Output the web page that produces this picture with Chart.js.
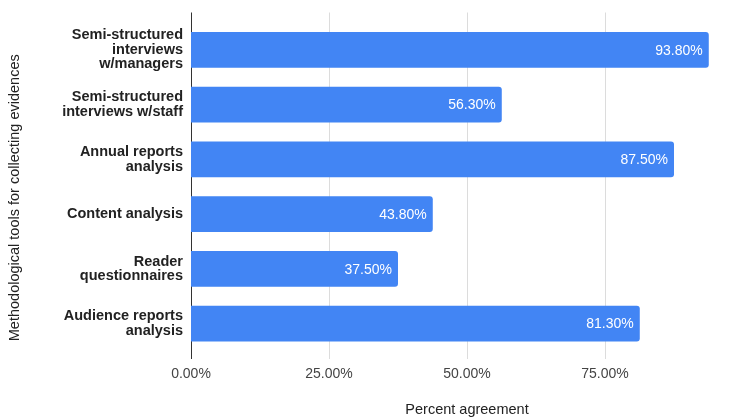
<!DOCTYPE html>
<html>
<head>
<meta charset="utf-8">
<script src="https://cdn.jsdelivr.net/npm/chart.js@4/dist/chart.umd.min.js"></script>
<style>
  html, body { margin: 0; padding: 0; background: #fff; overflow: hidden; }
  canvas { display: block; }
</style>
</head>
<body>
<canvas id="c" width="760" height="419"></canvas>
<script>
// Survey: share of respondents agreeing with each evidence-collection tool
const categories = [
  ["Semi-structured", "interviews", "w/managers"],
  ["Semi-structured", "interviews w/staff"],
  ["Annual reports", "analysis"],
  "Content analysis",
  ["Reader", "questionnaires"],
  ["Audience reports", "analysis"]
];
const agreement = [93.8, 56.3, 87.5, 43.8, 37.5, 81.3];
const tickValues = [0, 25, 50, 75];
const xTitle = 'Percent agreement';
const yTitle = 'Methodological tools for collecting evidences';

const FONT = "'Liberation Sans', Arial, sans-serif";
const pct = v => Number(v).toFixed(2) + '%';

// Vertical grid lines and the zero axis, running slightly past the plot area
const gridPlugin = {
  id: 'gridExt',
  beforeDatasetsDraw(chart) {
    const { ctx, chartArea, scales } = chart;
    const x = scales.x;
    ctx.save();
    x.ticks.forEach(t => {
      const px = Math.round(x.getPixelForValue(t.value)) + 0.5;
      ctx.beginPath();
      ctx.strokeStyle = t.value === 0 ? '#333333' : '#dcdcdc';
      ctx.lineWidth = 1;
      ctx.moveTo(px, chartArea.top - 10);
      ctx.lineTo(px, chartArea.bottom + 8);
      ctx.stroke();
    });
    ctx.restore();
  }
};

// Value labels inside the end of each bar
const valueLabels = {
  id: 'valueLabels',
  afterDatasetsDraw(chart) {
    const { ctx } = chart;
    const meta = chart.getDatasetMeta(0);
    const data = chart.data.datasets[0].data;
    ctx.save();
    ctx.font = '14px ' + FONT;
    ctx.fillStyle = '#ffffff';
    ctx.textAlign = 'right';
    ctx.textBaseline = 'middle';
    meta.data.forEach((bar, i) => {
      ctx.fillText(pct(data[i]), bar.x - 6, bar.y + 1);
    });
    ctx.restore();
  }
};

// Rotated category-axis title, centred on the full axis line
const yTitlePlugin = {
  id: 'yTitle',
  afterDraw(chart) {
    const { ctx, chartArea } = chart;
    ctx.save();
    ctx.font = '14.5px ' + FONT;
    ctx.fillStyle = '#222222';
    ctx.textAlign = 'center';
    ctx.textBaseline = 'middle';
    ctx.translate(15, (chartArea.top + chartArea.bottom) / 2 + 11);
    ctx.rotate(-Math.PI / 2);
    ctx.fillText(yTitle, 0, 0);
    ctx.restore();
  }
};

new Chart(document.getElementById('c'), {
  type: 'bar',
  data: {
    labels: categories,
    datasets: [{
      data: agreement,
      backgroundColor: '#4285F4',
      borderRadius: 3,
      borderSkipped: 'start',
      barPercentage: 0.65,
      categoryPercentage: 1
    }]
  },
  options: {
    indexAxis: 'y',
    responsive: false,
    animation: false,
    layout: { padding: { top: 19, right: 17, bottom: 0, left: 0 } },
    plugins: {
      legend: { display: false },
      tooltip: { enabled: false }
    },
    scales: {
      x: {
        min: 0,
        max: 100,
        afterBuildTicks: s => { s.ticks = tickValues.map(v => ({ value: v })); },
        afterFit: s => { s.height = 68; },
        grid: { display: false, drawTicks: false },
        border: { display: false },
        ticks: {
          padding: 15,
          color: '#444444',
          font: { family: FONT, size: 14 },
          callback: v => pct(v)
        },
        title: {
          display: true,
          text: xTitle,
          color: '#222222',
          font: { family: FONT, size: 14.5 },
          padding: { top: 4, bottom: 0 }
        }
      },
      y: {
        afterFit: s => { s.width = 191; },
        grid: { display: false, drawTicks: false },
        border: { display: false },
        ticks: {
          padding: 8,
          color: '#222222',
          font: { family: FONT, size: 14.5, weight: 'bold', lineHeight: 1.0 }
        }
      }
    }
  },
  plugins: [gridPlugin, valueLabels, yTitlePlugin]
});
</script>
</body>
</html>
